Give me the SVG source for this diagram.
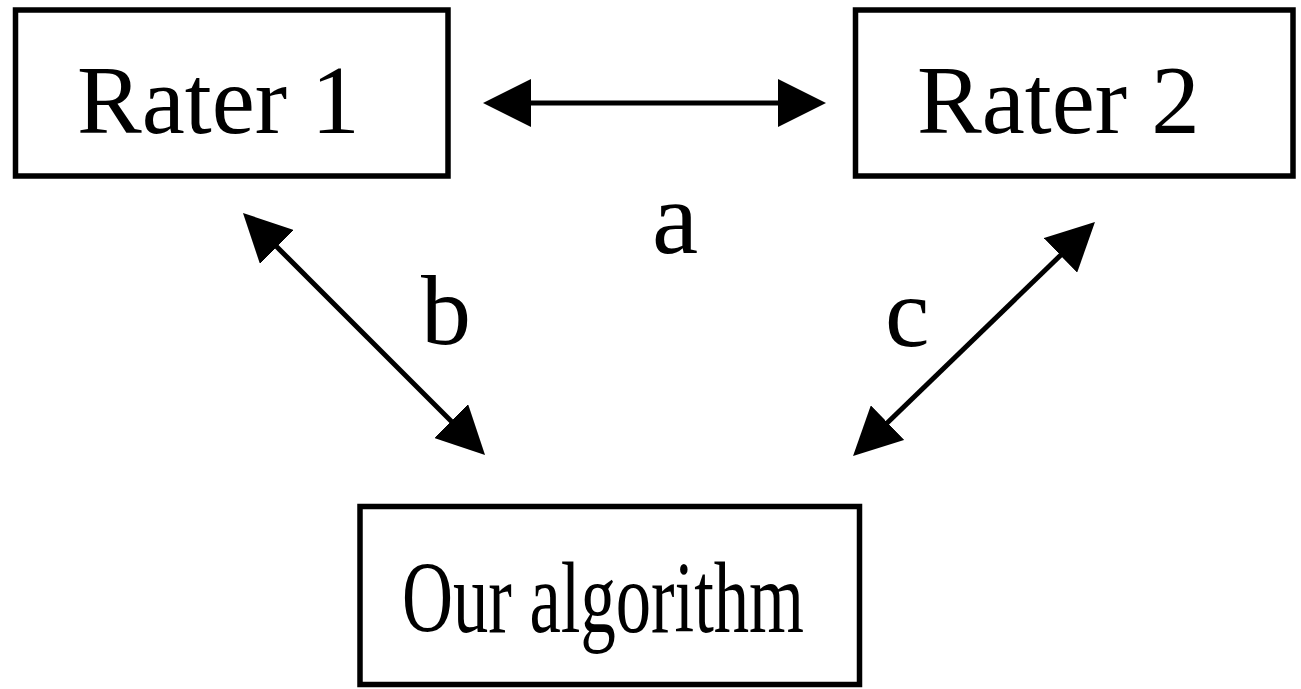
<svg xmlns="http://www.w3.org/2000/svg" width="1301" height="689" viewBox="0 0 1301 689">
  <style>
    .box { fill: #fff; stroke: #000; stroke-width: 5.5; }
    .edge { stroke: #000; stroke-width: 5; fill: none; marker-start: url(#head); marker-end: url(#head); }
  </style>
  <defs>
    <marker id="head" viewBox="0 0 48 48" refX="2" refY="24" markerWidth="48" markerHeight="48" markerUnits="userSpaceOnUse" orient="auto-start-reverse">
      <path d="M0,0 L48,24 L0,48 Z" fill="#000"/>
    </marker>
  </defs>
  <rect width="1301" height="689" fill="#fff"/>

  <g font-family="'Liberation Serif', 'Times New Roman', Times, serif" fill="#000">
    <g id="rater1">
      <rect class="box" x="15.5" y="10" width="432.5" height="166"/>
      <text x="77" y="133" font-size="97">Rater 1</text>
    </g>

    <g id="rater2">
      <rect class="box" x="855.5" y="10" width="437.5" height="166"/>
      <text x="917" y="133" font-size="97">Rater 2</text>
    </g>

    <g id="algorithm">
      <rect class="box" x="360" y="506.5" width="499.5" height="178"/>
      <text x="402" y="632" font-size="102" textLength="402" lengthAdjust="spacingAndGlyphs">Our algorithm</text>
    </g>

    <g id="connectors">
      <line class="edge" x1="529" y1="103" x2="780" y2="103"/>
      <line class="edge" x1="275.5" y1="245.5" x2="452.5" y2="422.5"/>
      <line class="edge" x1="1061.9" y1="254" x2="886.1" y2="424"/>
      <text x="652" y="253" font-size="104">a</text>
      <text x="421" y="344" font-size="100">b</text>
      <text x="885" y="346" font-size="100">c</text>
    </g>
  </g>
</svg>
